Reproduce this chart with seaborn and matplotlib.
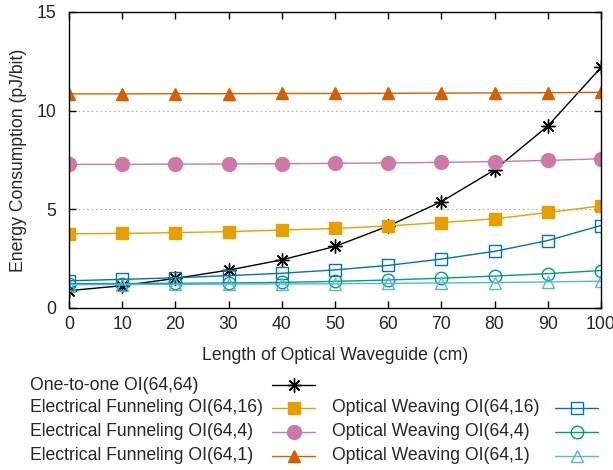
import matplotlib
matplotlib.use("Agg")
import matplotlib.pyplot as plt
from matplotlib.lines import Line2D
import seaborn as sns
import numpy as np

length_cm = [0, 10, 20, 30, 40, 50, 60, 70, 80, 90, 100]
one_to_one_64_64 = [0.88, 1.13, 1.50, 1.92, 2.44, 3.12, 4.15, 5.39, 7.00, 9.22, 12.19]
ef_64_16 = [3.76, 3.78, 3.82, 3.87, 3.95, 4.03, 4.16, 4.33, 4.52, 4.84, 5.17]
ef_64_4 = [7.28, 7.28, 7.29, 7.30, 7.31, 7.33, 7.35, 7.38, 7.42, 7.48, 7.56]
ef_64_1 = [10.85, 10.85, 10.86, 10.86, 10.87, 10.87, 10.88, 10.89, 10.90, 10.91, 10.93]
ow_64_16 = [1.38, 1.45, 1.53, 1.64, 1.76, 1.93, 2.16, 2.48, 2.87, 3.42, 4.18]
ow_64_4 = [1.23, 1.24, 1.25, 1.27, 1.30, 1.35, 1.42, 1.51, 1.62, 1.74, 1.90]
ow_64_1 = [1.18, 1.19, 1.20, 1.21, 1.22, 1.23, 1.25, 1.27, 1.29, 1.32, 1.36]

labels = ["One-to-one OI(64,64)",
          "Electrical Funneling OI(64,16)",
          "Electrical Funneling OI(64,4)",
          "Electrical Funneling OI(64,1)",
          "Optical Weaving OI(64,16)",
          "Optical Weaving OI(64,4)",
          "Optical Weaving OI(64,1)"]

sns.set_theme(style="white")
plt.rcParams['font.family'] = ['Liberation Sans', 'DejaVu Sans']

W, H = 613, 470
FS = 12.7
fig = plt.figure(figsize=(W/100, H/100), dpi=100)
ax = fig.add_axes([69/W, 1-308/H, (601-69)/W, (308-12)/H])

series = [
    (one_to_one_64_64, "#000000", (8, 2, 0), 10, "full"),
    (ef_64_16, "#E69F00", "s", 9, "full"),
    (ef_64_4, "#CC79A7", "o", 10, "full"),
    (ef_64_1, "#D55E00", "^", 9, "full"),
    (ow_64_16, "#0072B2", "s", 9, "none"),
    (ow_64_4, "#009E73", "o", 9, "none"),
    (ow_64_1, "#56B4E9", "^", 9, "none"),
]

styles = []
for (vals, col, mk, ms, fill), lab in zip(series, labels):
    if fill == "full":
        kw = dict(markerfacecolor=col, markeredgecolor=col, markeredgewidth=1.0)
    else:
        kw = dict(markerfacecolor="none", markeredgecolor=col, markeredgewidth=1.0)
    sns.lineplot(x=length_cm, y=vals, ax=ax, color=col, linewidth=1.0,
                 marker=mk, markersize=ms, legend=False, **kw)
    styles.append((col, mk, ms, kw))

ax.set_xlim(0, 100)
ax.set_ylim(0, 15)
ax.set_xticks(length_cm)
ax.set_yticks([0, 5, 10, 15])
for yv in [5, 10]:
    ax.axhline(yv, color="#b0b0b0", linestyle=(0, (1.5, 2.5)), linewidth=0.8, zorder=0)
for s in ax.spines.values():
    s.set_color("black")
    s.set_linewidth(1.0)
ax.tick_params(axis="both", direction="in", length=5, width=1.0, color="black",
               labelsize=FS, top=True, right=True, bottom=True, left=True, pad=6)
ax.tick_params(axis="y", pad=9)
ax.set_xlabel("Length of Optical Waveguide (cm)", fontsize=FS, labelpad=10)
ax.set_ylabel("Energy Consumption (pJ/bit)", fontsize=FS, labelpad=7)

# gnuplot-style key: text on the left, sample on the right
rows_y = [385, 408, 432, 456]
positions = [(0, 0), (0, 1), (0, 2), (0, 3), (1, 1), (1, 2), (1, 3)]
col_text_x = [30, 332]
col_line = [(272, 315), (555, 598)]
for (c, r), lab, (col, mk, ms, kw) in zip(positions, labels, styles):
    y = 1 - rows_y[r] / H
    fig.text(col_text_x[c] / W, y, lab, fontsize=FS, ha="left", va="center")
    x0, x1 = col_line[c]
    fig.add_artist(Line2D([x0 / W, x1 / W], [y, y], transform=fig.transFigure,
                          color=col, linewidth=1.0))
    fig.add_artist(Line2D([(x0 + x1) / 2 / W], [y], transform=fig.transFigure,
                          color=col, linestyle="none", marker=mk, markersize=ms, **kw))

fig.savefig("out.png", dpi=100)
